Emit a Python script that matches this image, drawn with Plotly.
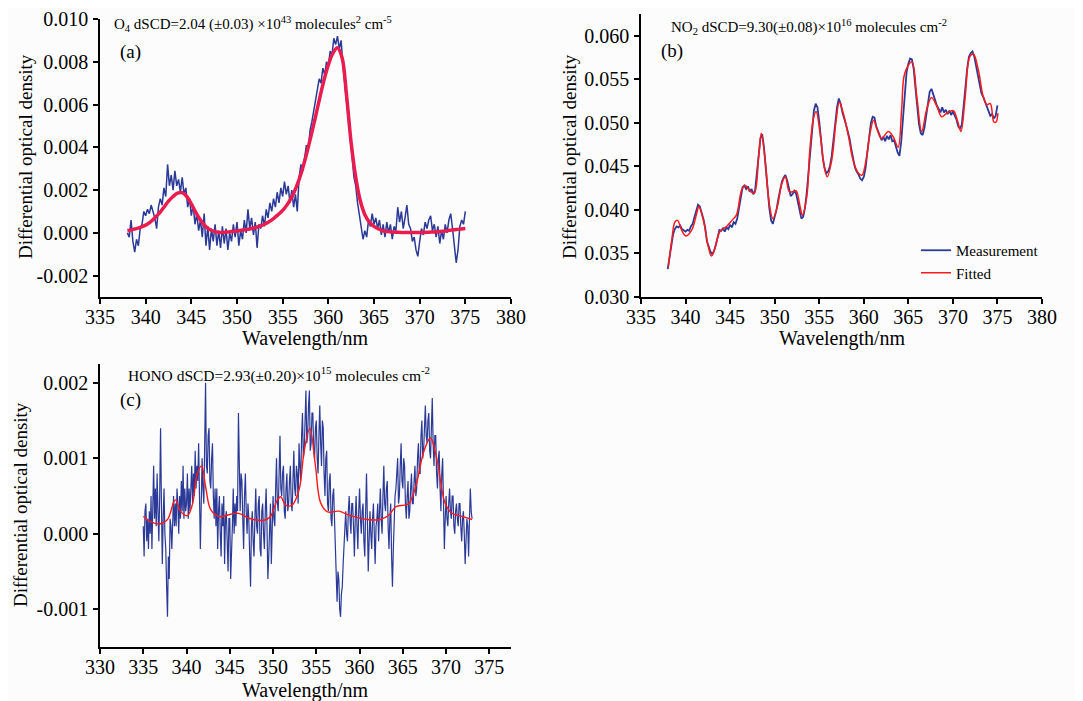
import plotly.graph_objects as go

# the page body has an 8px margin, so the figure starts 8px into the 1083x701 window
OFF = 8
W, H = 1083 - OFF, 701 - OFF

# ---------------- Panel (a): O4 ----------------
o4_start, o4_step = 338.0, 0.2
o4_meas = [
    0.0000, -0.0002, 0.0006, -0.0004, -0.0009, -0.0003, -0.0006, 0.0002, 0.0004, 0.0010,
    0.0008, 0.0011, 0.0009, 0.0013, 0.0010, 0.0007, 0.0002, 0.0012, 0.0016, 0.0013,
    0.0021, 0.0017, 0.0032, 0.0022, 0.0027, 0.0020, 0.0029, 0.0022, 0.0025, 0.0019,
    0.0026, 0.0018, 0.0021, 0.0012, 0.0016, 0.0008, 0.0013, 0.0004, 0.0009, 0.0001,
    0.0006, -0.0002, 0.0009, -0.0006, 0.0003, -0.0008, 0.0002, -0.0004, 0.0004, -0.0006,
    0.0001, -0.0007, 0.0003, -0.0005, 0.0002, -0.0008, 0.0000, -0.0004, 0.0004, -0.0002,
    0.0005, -0.0006, 0.0001, -0.0003, 0.0006, 0.0000, 0.0011, 0.0002, 0.0007, -0.0001,
    0.0005, -0.0007, 0.0004, 0.0002, 0.0008, 0.0003, 0.0011, 0.0007, 0.0014, 0.0010,
    0.0016, 0.0012, 0.0019, 0.0014, 0.0021, 0.0017, 0.0024, 0.0018, 0.0022, 0.0014,
    0.0020, 0.0012, 0.0018, 0.0010, 0.0026, 0.0032, 0.0029, 0.0036, 0.0041, 0.0039,
    0.0048, 0.0052, 0.0057, 0.0063, 0.0067, 0.0072, 0.0070, 0.0077, 0.0074, 0.0080,
    0.0078, 0.0085, 0.0083, 0.0091, 0.0088, 0.0092, 0.0086, 0.0090, 0.0078, 0.0070,
    0.0062, 0.0054, 0.0044, 0.0036, 0.0026, 0.0022, 0.0014, 0.0008, 0.0002, -0.0003,
    0.0001, -0.0002, 0.0006, 0.0003, 0.0009, 0.0004, 0.0007, 0.0002, 0.0006, -0.0001,
    0.0004, -0.0002, 0.0005, 0.0000, 0.0004, -0.0003, 0.0003, 0.0001, 0.0012, 0.0005,
    0.0010, 0.0002, 0.0007, 0.0013, 0.0004, 0.0002, -0.0004, -0.0002, -0.0008, -0.0011,
    -0.0004, 0.0002, -0.0001, 0.0005, 0.0002, 0.0006, 0.0008, 0.0001, 0.0004, -0.0002,
    0.0003, -0.0005, 0.0001, -0.0003, 0.0004, 0.0000, 0.0006, 0.0009, 0.0002, -0.0006,
    -0.0014, -0.0008, 0.0003, 0.0006, 0.0004, 0.0010,
]
o4_fit_start, o4_fit_step = 338.0, 0.5
o4_fit = [
    0.00010, 0.00015, 0.00020, 0.00027, 0.00036, 0.00050, 0.00070, 0.00092, 0.00120, 0.00148,
    0.00170, 0.00186, 0.00188, 0.00170, 0.00135, 0.00095, 0.00060, 0.00033, 0.00016, 0.00007,
    0.00003, 0.00002, 0.00004, 0.00007, 0.00009, 0.00012, 0.00015, 0.00019, 0.00024, 0.00031,
    0.00040, 0.00052, 0.00067, 0.00085, 0.00105, 0.00132, 0.00168, 0.00215, 0.00275, 0.00350,
    0.00435, 0.00525, 0.00620, 0.00710, 0.00785, 0.00840, 0.00865, 0.00820, 0.00640, 0.00420,
    0.00260, 0.00150, 0.00085, 0.00050, 0.00030, 0.00018, 0.00010, 0.00006, 0.00004, 0.00003,
    0.00002, 0.00002, 0.00002, 0.00002, 0.00002, 0.00002, 0.00003, 0.00004, 0.00005, 0.00007,
    0.00010, 0.00013, 0.00016, 0.00018, 0.00020,
]

# ---------------- Panel (b): NO2 ----------------
no2_start, no2_step = 338.0, 0.2
no2_meas = [
    0.0332, 0.0345, 0.0362, 0.0372, 0.0378, 0.0381, 0.0380, 0.0382, 0.0378, 0.0376,
    0.0375, 0.0377, 0.0376, 0.0381, 0.0384, 0.0392, 0.0398, 0.0406, 0.0404, 0.0398,
    0.0390, 0.0380, 0.0364, 0.0358, 0.0352, 0.0349, 0.0353, 0.0360, 0.0370, 0.0377,
    0.0376, 0.0379, 0.0375, 0.0380, 0.0378, 0.0383, 0.0380, 0.0386, 0.0384, 0.0390,
    0.0402, 0.0416, 0.0426, 0.0428, 0.0424, 0.0427, 0.0421, 0.0424, 0.0418, 0.0422,
    0.0440, 0.0462, 0.0482, 0.0487, 0.0472, 0.0448, 0.0422, 0.0402, 0.0388, 0.0384,
    0.0392, 0.0400, 0.0412, 0.0424, 0.0432, 0.0437, 0.0440, 0.0434, 0.0424, 0.0416,
    0.0418, 0.0422, 0.0419, 0.0410, 0.0398, 0.0390, 0.0392, 0.0402, 0.0420, 0.0445,
    0.0472, 0.0498, 0.0514, 0.0522, 0.0518, 0.0502, 0.0480, 0.0460, 0.0448, 0.0442,
    0.0444, 0.0450, 0.0462, 0.0480, 0.0500, 0.0518, 0.0528, 0.0522, 0.0512, 0.0506,
    0.0498, 0.0490, 0.0482, 0.0470, 0.0458, 0.0449, 0.0444, 0.0441, 0.0436, 0.0434,
    0.0438, 0.0448, 0.0466, 0.0486, 0.0500, 0.0507, 0.0506, 0.0496, 0.0490, 0.0484,
    0.0480, 0.0484, 0.0479, 0.0485, 0.0481, 0.0486, 0.0479, 0.0480, 0.0472, 0.0466,
    0.0462, 0.0478, 0.0505, 0.0535, 0.0558, 0.0568, 0.0574, 0.0573, 0.0562, 0.0540,
    0.0518, 0.0498, 0.0488, 0.0486, 0.0494, 0.0510, 0.0526, 0.0536, 0.0539, 0.0532,
    0.0526, 0.0520, 0.0516, 0.0512, 0.0518, 0.0512, 0.0515, 0.0510, 0.0514, 0.0509,
    0.0513, 0.0508, 0.0504, 0.0496, 0.0493, 0.0498, 0.0516, 0.0540, 0.0562, 0.0576,
    0.0580, 0.0582, 0.0576, 0.0566, 0.0556, 0.0545, 0.0534, 0.0530, 0.0524, 0.0518,
    0.0512, 0.0508, 0.0510, 0.0505, 0.0508, 0.0520,
]
no2_fit_wl = [
    338.07, 338.45, 338.8, 339.1, 339.55, 340.05, 340.7, 341.25, 341.5, 342.0,
    342.55, 342.9, 343.3, 343.85, 344.6, 345.2, 345.7, 346.3, 346.7, 347.2,
    347.7, 348.2, 348.5, 348.9, 349.4, 349.8, 350.3, 350.8, 351.2, 351.65,
    352.1, 352.4, 352.85, 353.1, 353.6, 353.95, 354.35, 354.65, 355.1, 355.55,
    355.9, 356.4, 356.9, 357.25, 357.7, 358.3, 358.8, 359.4, 359.8, 360.25,
    360.7, 361.1, 361.5, 362.0, 362.75, 363.3, 363.85, 364.25, 364.6, 365.4,
    365.95, 366.5, 367.05, 367.6, 368.2, 368.75, 369.3, 370.05, 370.5, 370.9,
    371.35, 371.9, 372.3, 372.85, 373.4, 373.8, 374.2, 374.6, 374.85, 375.05,
]
no2_fit = [
    0.0335, 0.0365, 0.0386, 0.0388, 0.0377, 0.0370, 0.0377, 0.0396, 0.0404, 0.0388,
    0.0358, 0.0347, 0.0356, 0.0375, 0.0381, 0.0388, 0.0394, 0.0423, 0.0428, 0.0422,
    0.0419, 0.0461, 0.0488, 0.0461, 0.0407, 0.0390, 0.0404, 0.0430, 0.0438, 0.0421,
    0.0421, 0.0422, 0.0404, 0.0394, 0.0415, 0.0469, 0.0505, 0.0513, 0.0488, 0.0450,
    0.0438, 0.0457, 0.0503, 0.0524, 0.0511, 0.0484, 0.0457, 0.0442, 0.0440, 0.0457,
    0.0488, 0.0503, 0.0492, 0.0482, 0.0490, 0.0484, 0.0472, 0.0515, 0.0557, 0.0570,
    0.0530, 0.0490, 0.0515, 0.0529, 0.0519, 0.0507, 0.0511, 0.0514, 0.0503, 0.0490,
    0.0526, 0.0576, 0.0579, 0.0561, 0.0530, 0.0521, 0.0522, 0.0501, 0.0501, 0.0511,
]

# ---------------- Panel (c): HONO ----------------
hono_start, hono_step = 335.0, 0.1
hono_meas = [
    0.0001, -0.0003, 0.0003, 0.0004, -0.0001, 0.0002, -0.0002, 0.0003, 0.0000, 0.0005,
    -0.0002, 0.0004, 0.0009, 0.0002, 0.0006, 0.0001, 0.0008, 0.0003, -0.0001, 0.0005,
    0.0014, 0.0004, -0.0004, 0.0002, 0.0006, 0.0000, -0.0002, -0.0007, -0.0011, -0.0003,
    -0.0006, 0.0002, 0.0001, -0.0002, 0.0003, 0.0005, 0.0001, 0.0004, 0.0001, 0.0006,
    0.0004, 0.0000, 0.0005, 0.0002, 0.0007, 0.0003, 0.0009, 0.0002, 0.0006, 0.0003,
    0.0004, 0.0008, 0.0002, 0.0006, 0.0003, 0.0007, 0.0009, 0.0004, 0.0008, 0.0005,
    0.0011, 0.0006, 0.0009, 0.0007, 0.0012, 0.0005, -0.0002, 0.0004, 0.0010, 0.0006,
    0.0004, 0.0012, 0.0020, 0.0009, 0.0008, 0.0013, 0.0014, 0.0007, 0.0006, 0.0010,
    0.0012, 0.0005, 0.0002, 0.0006, 0.0001, 0.0006, -0.0002, 0.0003, 0.0005, 0.0000,
    -0.0003, 0.0004, 0.0001, 0.0005, -0.0004, 0.0002, 0.0003, -0.0001, -0.0005, 0.0002,
    0.0002, -0.0006, -0.0003, 0.0001, 0.0006, 0.0000, 0.0004, 0.0001, 0.0005, 0.0003,
    0.0016, 0.0006, 0.0003, 0.0008, 0.0007, 0.0002, -0.0002, 0.0005, 0.0008, 0.0003,
    0.0000, 0.0004, 0.0002, -0.0003, -0.0007, 0.0001, 0.0003, -0.0001, -0.0003, 0.0002,
    0.0006, 0.0001, 0.0000, 0.0004, 0.0005, -0.0002, -0.0003, 0.0003, 0.0004, 0.0000,
    -0.0002, 0.0003, 0.0006, 0.0001, -0.0006, -0.0003, 0.0002, 0.0004, -0.0004, 0.0001,
    0.0005, 0.0002, 0.0001, 0.0006, 0.0010, 0.0004, 0.0003, 0.0008, 0.0013, 0.0006,
    0.0005, 0.0008, 0.0009, 0.0003, 0.0002, 0.0006, 0.0008, 0.0003, 0.0004, 0.0007,
    0.0009, 0.0004, 0.0003, 0.0007, 0.0011, 0.0006, 0.0005, 0.0009, 0.0008, 0.0004,
    0.0012, 0.0009, 0.0007, 0.0013, 0.0016, 0.0010, 0.0011, 0.0015, 0.0019, 0.0012,
    0.0013, 0.0017, 0.0019, 0.0011, 0.0012, 0.0016, 0.0016, 0.0011, 0.0010, 0.0014,
    0.0015, 0.0010, 0.0008, 0.0013, 0.0017, 0.0012, 0.0009, 0.0015, 0.0014, 0.0008,
    0.0005, 0.0010, 0.0011, 0.0004, 0.0003, 0.0007, 0.0008, 0.0002, 0.0001, 0.0005,
    0.0006, 0.0002, -0.0003, -0.0006, -0.0009, -0.0005, -0.0006, -0.0010, -0.0011, -0.0008,
    -0.0007, -0.0004, -0.0002, 0.0001, 0.0003, 0.0000, -0.0001, 0.0003, 0.0005, 0.0002,
    0.0000, 0.0004, 0.0004, 0.0001, -0.0003, 0.0002, 0.0005, 0.0001, -0.0002, 0.0003,
    0.0006, 0.0002, 0.0000, 0.0003, 0.0004, -0.0001, -0.0003, 0.0003, 0.0008, 0.0002,
    -0.0005, -0.0001, 0.0003, 0.0000, -0.0002, 0.0002, 0.0004, 0.0000, -0.0004, 0.0001,
    0.0002, 0.0004, -0.0001, 0.0003, 0.0006, 0.0002, 0.0000, 0.0005, 0.0009, 0.0004,
    0.0003, 0.0006, 0.0007, 0.0001, -0.0002, 0.0002, 0.0004, -0.0003, -0.0007, -0.0002,
    0.0002, 0.0005, 0.0006, 0.0008, 0.0010, 0.0004, 0.0005, 0.0009, 0.0012, 0.0007,
    0.0006, 0.0010, 0.0009, 0.0004, 0.0002, 0.0005, 0.0007, 0.0002, 0.0003, 0.0006,
    0.0008, 0.0004, 0.0004, 0.0007, 0.0009, 0.0005, 0.0006, 0.0010, 0.0012, 0.0008,
    0.0008, 0.0013, 0.0015, 0.0010, 0.0011, 0.0014, 0.0017, 0.0013, 0.0012, 0.0015,
    0.0016, 0.0011, 0.0010, 0.0014, 0.0018, 0.0012, 0.0009, 0.0013, 0.0013, 0.0008,
    0.0006, 0.0010, 0.0011, 0.0006, 0.0003, 0.0008, 0.0010, 0.0004, -0.0002, 0.0002,
    0.0005, 0.0002, 0.0001, 0.0004, 0.0006, 0.0003, 0.0002, 0.0005, 0.0005, 0.0001,
    0.0000, 0.0003, 0.0004, 0.0002, 0.0001, 0.0004, 0.0004, 0.0001, -0.0001, 0.0002,
    0.0003, 0.0000, -0.0004, -0.0001, 0.0002, 0.0001, -0.0003, 0.0002, 0.0006, 0.0003,
    0.0002,
]
hono_fit_wl = [
    335.0, 335.85, 336.8, 337.8, 338.55, 338.75, 339.3, 340.1, 340.7, 341.25,
    341.75, 342.2, 342.8, 343.75, 345.5, 346.05, 347.4, 348.95, 349.7, 350.5,
    350.9, 351.45, 352.2, 353.0, 353.6, 354.25, 354.9, 355.5, 356.3, 357.6,
    358.95, 360.9, 362.4, 363.4, 364.2, 365.15, 365.7, 366.5, 367.45, 368.2,
    368.95, 369.9, 370.7, 371.85, 373.0,
]
hono_fit = [
    0.00023, 0.00016, 0.00013, 0.00019, 0.00043, 0.00045, 0.00030, 0.00024, 0.00040, 0.00080,
    0.00090, 0.00063, 0.00032, 0.00023, 0.00027, 0.00027, 0.00020, 0.00018, 0.00023, 0.00045,
    0.00049, 0.00038, 0.00038, 0.00058, 0.00110, 0.00140, 0.00090, 0.00041, 0.00029, 0.00030,
    0.00024, 0.00019, 0.00019, 0.00025, 0.00036, 0.00038, 0.00040, 0.00063, 0.00110, 0.00127,
    0.00098, 0.00040, 0.00027, 0.00023, 0.00019,
]

# tick labels
a_yticks = [-0.002, 0.000, 0.002, 0.004, 0.006, 0.008, 0.010]
a_ylabels = ["-0.002", "0.000", "0.002", "0.004", "0.006", "0.008", "0.010"]
b_yticks = [0.030, 0.035, 0.040, 0.045, 0.050, 0.055, 0.060]
b_ylabels = ["0.030", "0.035", "0.040", "0.045", "0.050", "0.055", "0.060"]
c_yticks = [-0.001, 0.000, 0.001, 0.002]
c_ylabels = ["-0.001", "0.000", "0.001", "0.002"]
ab_xticks = [335, 340, 345, 350, 355, 360, 365, 370, 375, 380]
c_xticks = [330, 335, 340, 345, 350, 355, 360, 365, 370, 375]


def grid(start, step, n):
    return [round(start + step * i, 3) for i in range(n)]


FONT = "Liberation Serif"
BLUE = "#2b3a97"
RED_A = "#e81c4f"
RED = "#ff1a1a"


def px(x):  # window pixel -> paper fraction
    return (x - OFF) / W


def py(y):
    return 1 - (y - OFF) / H


fig = go.Figure()

fig.add_trace(go.Scatter(x=grid(o4_start, o4_step, len(o4_meas)), y=o4_meas, mode="lines",
                         line=dict(color=BLUE, width=1.5), xaxis="x", yaxis="y", showlegend=False))
fig.add_trace(go.Scatter(x=grid(o4_fit_start, o4_fit_step, len(o4_fit)), y=o4_fit, mode="lines",
                         line=dict(color=RED_A, width=3.5, shape="spline"), xaxis="x", yaxis="y",
                         showlegend=False))
fig.add_trace(go.Scatter(x=grid(no2_start, no2_step, len(no2_meas)), y=no2_meas, mode="lines",
                         name="Measurement", line=dict(color=BLUE, width=1.8), xaxis="x2", yaxis="y2"))
fig.add_trace(go.Scatter(x=no2_fit_wl, y=no2_fit, mode="lines", name="Fitted",
                         line=dict(color=RED, width=1.5, shape="spline"), xaxis="x2", yaxis="y2"))
fig.add_trace(go.Scatter(x=grid(hono_start, hono_step, len(hono_meas)), y=hono_meas, mode="lines",
                         line=dict(color=BLUE, width=1.2), xaxis="x3", yaxis="y3", showlegend=False))
fig.add_trace(go.Scatter(x=hono_fit_wl, y=hono_fit, mode="lines",
                         line=dict(color=RED, width=1.4, shape="spline"), xaxis="x3", yaxis="y3",
                         showlegend=False))

axis_common = dict(showline=True, linecolor="black", linewidth=1.5, ticks="outside",
                   ticklen=5, tickwidth=1.5, tickcolor="black", showgrid=False, zeroline=False,
                   automargin=False, ticklabeloverflow="allow",
                   tickfont=dict(family=FONT, size=20, color="black"), mirror=False)
xcommon = dict(axis_common, ticklabelstandoff=-4)
ycommon = dict(axis_common, ticklabelstandoff=1)

fig.update_layout(
    template="none",
    width=W, height=H,
    margin=dict(l=0, r=0, t=0, b=0, pad=0),
    paper_bgcolor="#fcfcfc", plot_bgcolor="#fcfcfc",
    font=dict(family=FONT, color="black"),
    xaxis=dict(domain=[px(100), px(511)], range=[335, 380], tickvals=ab_xticks,
               anchor="y", **xcommon),
    yaxis=dict(domain=[py(297), py(19)], range=[-0.003, 0.0100001], tickvals=a_yticks,
               ticktext=a_ylabels, anchor="x", **ycommon),
    xaxis2=dict(domain=[px(641), px(1042)], range=[335, 380], tickvals=ab_xticks,
                anchor="y2", **xcommon),
    yaxis2=dict(domain=[py(297), py(14)], range=[0.030, 0.0625], tickvals=b_yticks,
                ticktext=b_ylabels, anchor="x2", **ycommon),
    xaxis3=dict(domain=[px(100), px(511)], range=[330, 377.5], tickvals=c_xticks,
                anchor="y3", **xcommon),
    yaxis3=dict(domain=[py(647), py(364)], range=[-0.0015, 0.00225], tickvals=c_yticks,
                ticktext=c_ylabels, anchor="x3", **ycommon),
    legend=dict(x=px(916), y=py(234), xanchor="left", yanchor="top",
                bgcolor="rgba(0,0,0,0)", font=dict(family=FONT, size=15, color="black"),
                tracegroupgap=0, itemwidth=30),
)

ann = []


def text(x, y, s, size, xanchor="left", angle=0):
    ann.append(dict(x=px(x), y=py(y), xref="paper", yref="paper", text=s, showarrow=False,
                    xanchor=xanchor, yanchor="middle", textangle=angle,
                    font=dict(family=FONT, size=size, color="black")))


text(112, 24, "O<sub>4</sub> dSCD=2.04 (±0.03) ×10<sup>43</sup> molecules<sup>2</sup> cm<sup>-5</sup>", 15)
text(118, 52, "(a)", 19)
text(669, 27, "NO<sub>2</sub> dSCD=9.30(±0.08)×10<sup>16</sup> molecules cm<sup>-2</sup>", 15)
text(659, 51, "(b)", 19)
text(126, 374, "HONO dSCD=2.93(±0.20)×10<sup>15</sup> molecules cm<sup>-2</sup>", 15.5)
text(118, 400, "(c)", 19)

text(305, 338, "Wavelength/nm", 20, xanchor="center")
text(842, 338, "Wavelength/nm", 20, xanchor="center")
text(305, 690, "Wavelength/nm", 20, xanchor="center")
text(26, 157, "Differential optical density", 19, xanchor="center", angle=-90)
text(570, 157, "Differential optical density", 19, xanchor="center", angle=-90)
text(21, 505, "Differential optical density", 19, xanchor="center", angle=-90)

fig.update_layout(annotations=ann)
fig.write_html("out.html")
